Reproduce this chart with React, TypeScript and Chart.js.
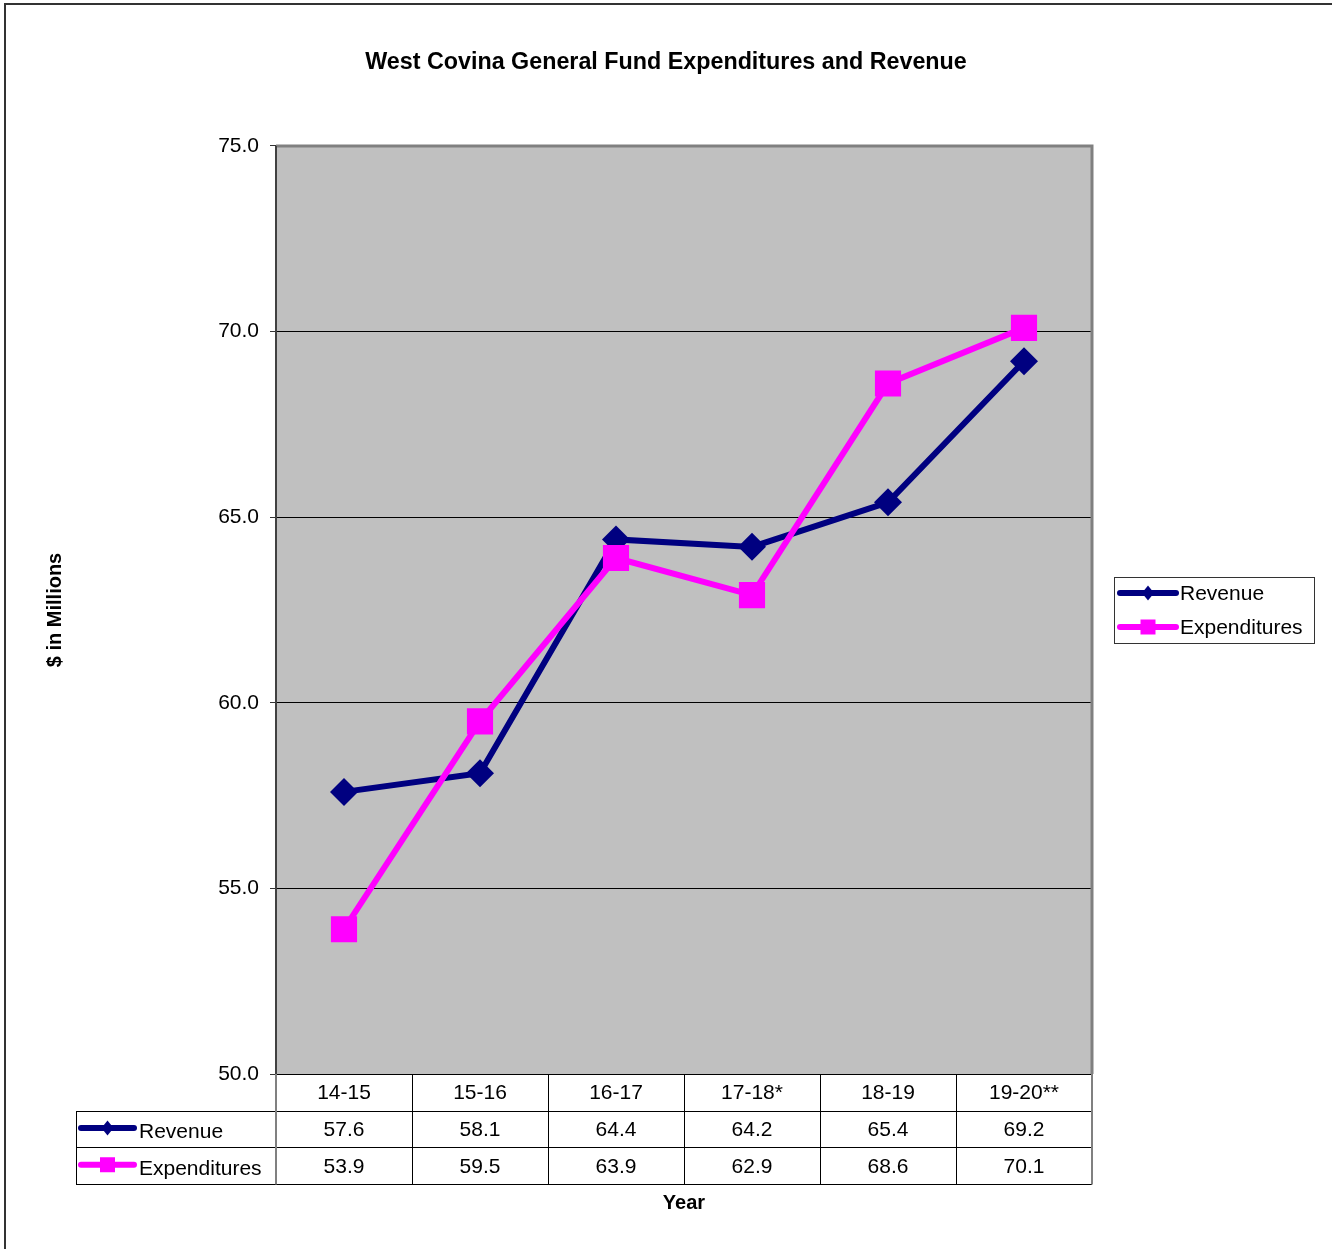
import React, { useEffect, useRef } from "react";
import { Chart, registerables } from "chart.js";

Chart.register(...registerables);

const chartTitle = "West Covina General Fund Expenditures and Revenue";
const yTitle = "$ in Millions";
const xTitle = "Year";
const categories = ["14-15", "15-16", "16-17", "17-18*", "18-19", "19-20**"];
const revenue = [57.6, 58.1, 64.4, 64.2, 65.4, 69.2];
const expenditures = [53.9, 59.5, 63.9, 62.9, 68.6, 70.1];
const seriesNames = ["Revenue", "Expenditures"];
const yMin = 50;
const yMax = 75;
const yStep = 5;

const FONT = '"Liberation Sans", Arial, Helvetica, sans-serif';
const NAVY = "#000080";
const MAGENTA = "#FF00FF";
const PLOT_BG = "#C0C0C0";

function drawKey(ctx: CanvasRenderingContext2D, x0: number, x1: number, y: number, color: string, marker: "diamond" | "square") {
  ctx.save();
  ctx.strokeStyle = color;
  ctx.lineWidth = 6;
  ctx.lineCap = "round";
  ctx.beginPath();
  ctx.moveTo(x0, y);
  ctx.lineTo(x1, y);
  ctx.stroke();
  ctx.fillStyle = color;
  const cx = (x0 + x1) / 2;
  ctx.beginPath();
  if (marker === "diamond") {
    ctx.moveTo(cx, y - 7.5);
    ctx.lineTo(cx + 6, y);
    ctx.lineTo(cx, y + 7.5);
    ctx.lineTo(cx - 6, y);
    ctx.closePath();
  } else {
    ctx.rect(cx - 7.5, y - 7.5, 15, 15);
  }
  ctx.fill();
  ctx.restore();
}

const decorPlugin = {
  id: "decor",
  beforeDraw(chart: any) {
    const { ctx, chartArea: a, width, height } = chart;
    ctx.save();
    ctx.fillStyle = "#FFFFFF";
    ctx.fillRect(0, 0, width, height);
    ctx.strokeStyle = "#333333";
    ctx.lineWidth = 2;
    ctx.beginPath();
    ctx.moveTo(5, height + 5);
    ctx.lineTo(5, 4);
    ctx.lineTo(width + 5, 4);
    ctx.stroke();
    ctx.fillStyle = PLOT_BG;
    ctx.fillRect(a.left, a.top, a.right - a.left, a.bottom - a.top);
    ctx.restore();
  },
  beforeDatasetsDraw(chart: any) {
    const { ctx, chartArea: a } = chart;
    ctx.save();
    ctx.strokeStyle = "#808080";
    ctx.lineWidth = 3;
    ctx.beginPath();
    ctx.moveTo(a.left, a.top);
    ctx.lineTo(a.right, a.top);
    ctx.lineTo(a.right, a.bottom);
    ctx.stroke();
    ctx.strokeStyle = "#404040";
    ctx.lineWidth = 2;
    ctx.beginPath();
    ctx.moveTo(a.left, a.top);
    ctx.lineTo(a.left, a.bottom);
    ctx.stroke();
    ctx.restore();
  },
  afterDraw(chart: any) {
    const { ctx, chartArea: a } = chart;
    const xs = chart.scales.x;
    const half = (xs.getPixelForValue(1) - xs.getPixelForValue(0)) / 2;
    const top = a.bottom;
    const rowH = 36.7;
    const legendLeft = a.left - 200;
    ctx.save();
    ctx.strokeStyle = "#000000";
    ctx.lineWidth = 1;
    ctx.beginPath();
    ctx.moveTo(a.left, top + 0.5);
    ctx.lineTo(a.right, top + 0.5);
    for (let r = 1; r <= 3; r++) {
      const y = Math.round(top + r * rowH) + 0.5;
      ctx.moveTo(legendLeft, y);
      ctx.lineTo(a.right, y);
    }
    const bottom = Math.round(top + 3 * rowH) + 0.5;
    for (let i = 1; i < categories.length; i++) {
      const x = Math.round(xs.getPixelForValue(i) - half) + 0.5;
      ctx.moveTo(x, top);
      ctx.lineTo(x, bottom);
    }
    ctx.moveTo(legendLeft + 0.5, Math.round(top + rowH));
    ctx.lineTo(legendLeft + 0.5, bottom);
    ctx.stroke();
    ctx.strokeStyle = "#808080";
    ctx.lineWidth = 2;
    ctx.beginPath();
    ctx.moveTo(a.left, top);
    ctx.lineTo(a.left, bottom);
    ctx.moveTo(a.right, top);
    ctx.lineTo(a.right, bottom);
    ctx.stroke();

    ctx.fillStyle = "#000000";
    ctx.font = `21px ${FONT}`;
    ctx.textAlign = "center";
    ctx.textBaseline = "middle";
    const rows = [revenue, expenditures];
    categories.forEach((c, i) => {
      const cx = xs.getPixelForValue(i);
      ctx.fillText(c, cx, top + rowH / 2 + 1);
      rows.forEach((vals, r) => {
        ctx.fillText(vals[i].toFixed(1), cx, top + (r + 1.5) * rowH + 1);
      });
    });
    const colors = [NAVY, MAGENTA];
    const markers: ("diamond" | "square")[] = ["diamond", "square"];
    ctx.textAlign = "left";
    seriesNames.forEach((name, r) => {
      const y = top + (r + 1.5) * rowH;
      drawKey(ctx, legendLeft + 5, legendLeft + 58, y - 1, colors[r], markers[r]);
      ctx.fillStyle = "#000000";
      ctx.fillText(name, legendLeft + 63, y + 3);
    });

    const lx = a.right + 22;
    const ly = Math.round((a.top + a.bottom) / 2) - 33;
    ctx.strokeStyle = "#333333";
    ctx.lineWidth = 1;
    ctx.strokeRect(lx + 0.5, ly + 0.5, 200, 66);
    seriesNames.forEach((name, r) => {
      const y = ly + 16 + r * 34;
      drawKey(ctx, lx + 6, lx + 62, y, colors[r], markers[r]);
      ctx.fillStyle = "#000000";
      ctx.fillText(name, lx + 66, y + 1);
    });
    ctx.restore();
  },
};

export default function App() {
  const ref = useRef<HTMLCanvasElement | null>(null);
  useEffect(() => {
    document.body.style.margin = "0";
    const canvas = ref.current;
    if (!canvas) return;
    Chart.defaults.font.family = FONT;
    Chart.defaults.color = "#000000";
    const chart = new Chart(canvas, {
      type: "line",
      data: {
        labels: categories,
        datasets: [
          {
            label: seriesNames[0],
            data: revenue,
            borderColor: NAVY,
            backgroundColor: NAVY,
            borderWidth: 6,
            pointStyle: "rectRot",
            pointRadius: 14,
            pointBorderWidth: 0,
            order: 1,
            tension: 0,
            yAxisID: "y",
          },
          {
            label: seriesNames[1],
            data: expenditures,
            borderColor: MAGENTA,
            backgroundColor: MAGENTA,
            borderWidth: 6,
            pointStyle: "rect",
            pointRadius: 18.5,
            pointBorderWidth: 0,
            order: 0,
            tension: 0,
            yAxisID: "y",
          },
        ],
      },
      options: {
        animation: false,
        responsive: false,
        devicePixelRatio: 1,
        layout: { padding: 0 },
        plugins: {
          legend: { display: false },
          tooltip: { enabled: false },
          title: {
            display: true,
            text: chartTitle,
            font: { size: 23.3, weight: "bold", family: FONT },
            color: "#000000",
            padding: { top: 49, bottom: 69 },
          },
        },
        scales: {
          x: {
            type: "category",
            offset: true,
            grid: { display: false },
            border: { display: false },
            ticks: { display: false },
            title: {
              display: true,
              text: xTitle,
              font: { size: 20, weight: "bold", family: FONT },
              color: "#000000",
              padding: { top: 0, bottom: 34 },
            },
            afterFit: (s: any) => {
              s.height = 175;
            },
          },
          y: {
            min: yMin,
            max: yMax,
            ticks: {
              stepSize: yStep,
              padding: 11,
              color: "#000000",
              font: { size: 21, family: FONT },
              callback: (v: any) => Number(v).toFixed(1),
            },
            grid: {
              drawTicks: true,
              tickLength: 6,
              tickColor: "#333333",
              lineWidth: 1,
              color: (c: any) =>
                c.tick && (c.tick.value === yMin || c.tick.value === yMax) ? "rgba(0,0,0,0)" : "#000000",
            },
            border: { display: false },
            title: {
              display: true,
              text: yTitle,
              font: { size: 20, weight: "bold", family: FONT },
              color: "#000000",
              padding: { top: 43, bottom: 0 },
            },
            afterFit: (s: any) => {
              s.width = 276;
            },
          },
          legendSpace: {
            type: "linear",
            position: "right",
            display: true,
            min: yMin,
            max: yMax,
            grid: { display: false },
            border: { display: false },
            ticks: { display: false },
            afterFit: (s: any) => {
              s.width = 240;
            },
          },
        },
      },
      plugins: [decorPlugin],
    } as any);
    return () => chart.destroy();
  }, []);
  return (
    <div style={{ width: 1332, height: 1249 }}>
      <canvas ref={ref} width={1332} height={1249} style={{ display: "block", width: 1332, height: 1249 }} />
    </div>
  );
}
